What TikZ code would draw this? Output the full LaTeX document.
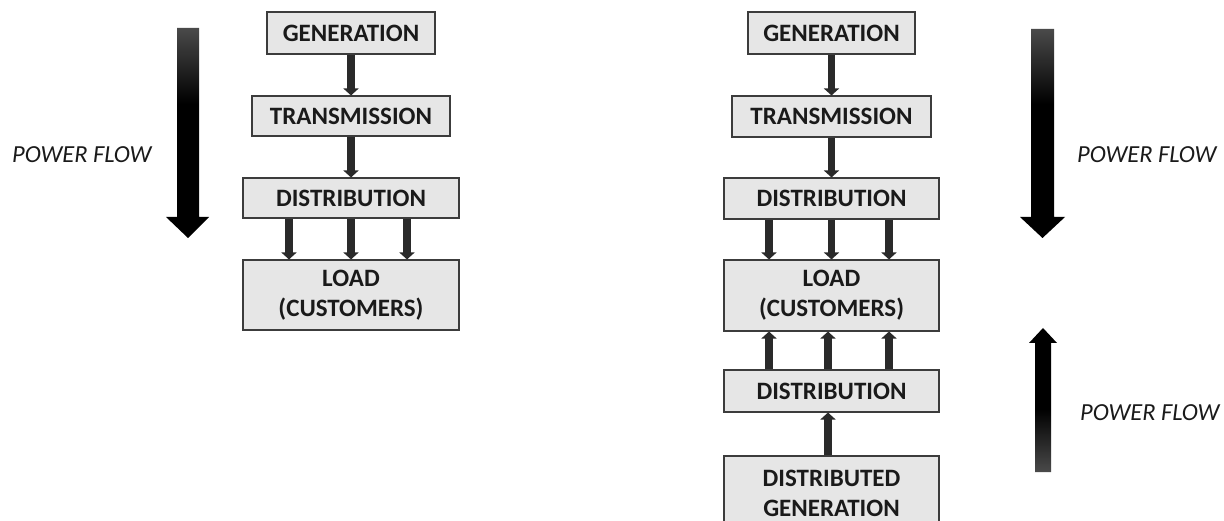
\documentclass[tikz,border=0pt]{standalone}
\usepackage{fontspec}
\setmainfont{Carlito}
\usetikzlibrary{arrows.meta}
\definecolor{boxfill}{HTML}{E6E6E6}
\definecolor{boxline}{HTML}{3C3C3C}
\definecolor{conncol}{HTML}{2A2A2A}
\definecolor{txtcol}{HTML}{1A1A1A}
\definecolor{bigtop}{HTML}{4A4A4A}
\pgfdeclareverticalshading{downflow}{100bp}{color(0bp)=(black); color(57bp)=(black); color(75bp)=(bigtop); color(100bp)=(bigtop)}
\pgfdeclareverticalshading{upflow}{100bp}{color(0bp)=(bigtop); color(25bp)=(bigtop); color(47bp)=(black); color(100bp)=(black)}
\tikzset{
  stagebox/.style={draw=boxline, line width=1.1pt, fill=boxfill, text=txtcol,
    font=\bfseries\fontsize{25}{30}\selectfont, align=center, inner sep=0pt},
  conn/.style={draw=conncol, line width=7.5pt, -{Triangle[width=15pt,length=7pt]}},
  flowlabel/.style={font=\itshape\fontsize{24.5}{28}\selectfont, text=txtcol, inner sep=0pt}
}
\begin{document}
\begin{tikzpicture}[x=1pt,y=-1pt]
\clip (0,0) rectangle (1224,521);
\fill[white] (0,0) rectangle (1224,521);

% left column
\node[stagebox, minimum width=168pt, minimum height=42pt] (gen1) at (351,33) {GENERATION};
\node[stagebox, minimum width=198pt, minimum height=40pt] (tra1) at (351,116) {TRANSMISSION};
\node[stagebox, minimum width=216pt, minimum height=40pt] (dis1) at (351,198) {DISTRIBUTION};
\node[stagebox, minimum width=216pt, minimum height=70pt] (load1) at (351,295) {LOAD\\(CUSTOMERS)};

\draw[conn] (gen1.south) -- (tra1.north);
\draw[conn] (tra1.south) -- (dis1.north);
\draw[conn] ([xshift=-62pt]dis1.south) -- ([xshift=-62pt]load1.north);
\draw[conn] (dis1.south) -- (load1.north);
\draw[conn] ([xshift=56pt]dis1.south) -- ([xshift=56pt]load1.north);

% right column
\node[stagebox, minimum width=167pt, minimum height=42pt] (gen2) at (831.5,33) {GENERATION};
\node[stagebox, minimum width=199pt, minimum height=41pt] (tra2) at (831.5,116.5) {TRANSMISSION};
\node[stagebox, minimum width=215pt, minimum height=41pt] (dis2) at (831.5,198.5) {DISTRIBUTION};
\node[stagebox, minimum width=215pt, minimum height=71pt] (load2) at (831.5,295.5) {LOAD\\(CUSTOMERS)};
\node[stagebox, minimum width=215pt, minimum height=42pt] (dis3) at (831.5,391) {DISTRIBUTION};
\node[stagebox, minimum width=215pt, minimum height=74pt] (dg) at (831.5,493) {DISTRIBUTED\\GENERATION};

\draw[conn] (gen2.south) -- (tra2.north);
\draw[conn] (tra2.south) -- (dis2.north);
\draw[conn] ([xshift=-62.5pt]dis2.south) -- ([xshift=-62.5pt]load2.north);
\draw[conn] (dis2.south) -- (load2.north);
\draw[conn] ([xshift=57.5pt]dis2.south) -- ([xshift=57.5pt]load2.north);
\draw[conn] ([xshift=-62.5pt]dis3.north) -- ([xshift=-62.5pt]load2.south);
\draw[conn] ([xshift=-3.5pt]dis3.north) -- ([xshift=-3.5pt]load2.south);
\draw[conn] ([xshift=57.5pt]dis3.north) -- ([xshift=57.5pt]load2.south);
\draw[conn] ([xshift=-3.5pt]dg.north) -- ([xshift=-3.5pt]dis3.south);

% big flow arrows
\shade[shading=downflow]
  (177,28) -- (199,28) -- (199,217) -- (209,217) -- (188,238) -- (166,217) -- (177,217) -- cycle;
\shade[shading=downflow]
  (1031,29) -- (1054,29) -- (1054,217) -- (1065,217) -- (1042.5,238) -- (1020,217) -- (1031,217) -- cycle;
\shade[shading=upflow]
  (1035,472) -- (1051,472) -- (1051,343) -- (1057,343) -- (1043,328) -- (1029,343) -- (1035,343) -- cycle;

\node[flowlabel, anchor=west] (pf1) at (12,155) {POWER FLOW};
\node[flowlabel, anchor=west] (pf2) at (1077,155) {POWER FLOW};
\node[flowlabel, anchor=west] (pf3) at (1080,413) {POWER FLOW};
\end{tikzpicture}
\end{document}
